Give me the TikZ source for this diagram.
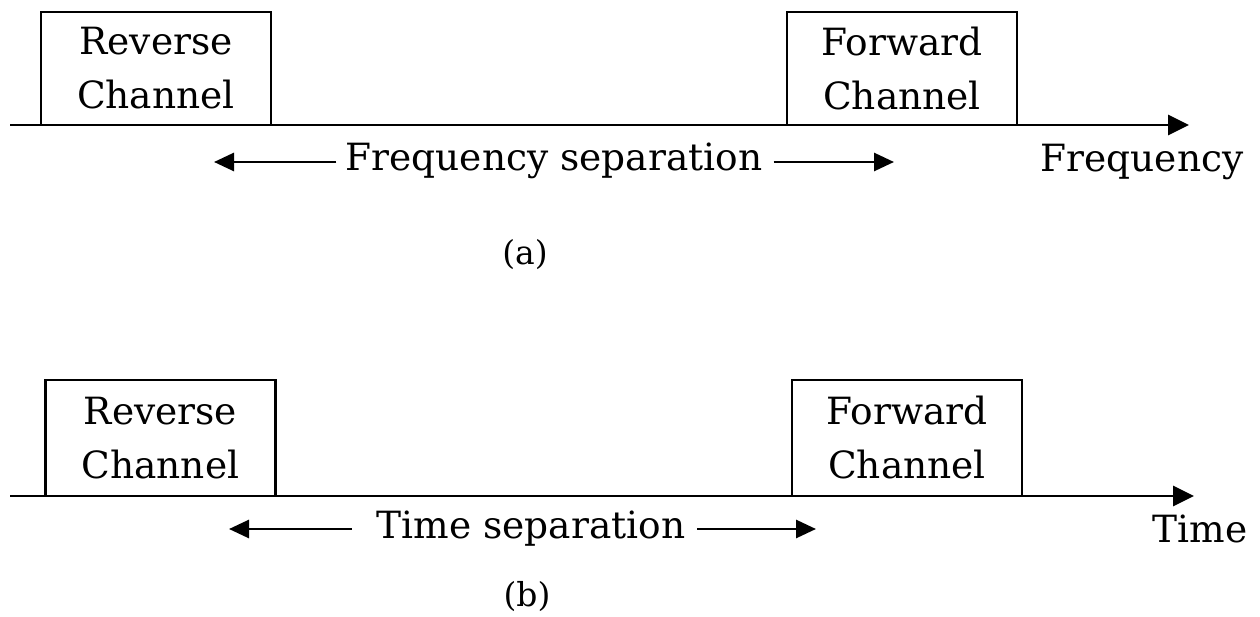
\documentclass[tikz,border=0pt]{standalone}
\usepackage{fontspec}
\setmainfont{DejaVu Serif}
\usetikzlibrary{arrows.meta}

\begin{document}
\begin{tikzpicture}[x=1pt,y=-1pt,
  txt/.style={font=\fontsize{37.5}{54}\selectfont, inner sep=0pt},
  chanbox/.style={draw, line width=2.4pt, minimum width=230pt, inner sep=0pt,
    align=center, font=\fontsize{37.5}{54}\selectfont},
  axis/.style={line width=2.8pt, -{Triangle[length=21pt,width=20pt]}},
  sep/.style={line width=2.8pt, -{Triangle[length=20pt,width=18pt]}},
  caption/.style={font=\fontsize{33}{38}\selectfont, inner sep=0pt}]
\useasboundingbox (0,0) rectangle (1260,617);

% ---- (a) frequency division ----
\node[chanbox, minimum height=113pt] (revA) at (156,68.5) {Reverse\\Channel};
\node[chanbox, minimum height=113pt] (fwdA) at (902,68.5) {Forward\\Channel};
\coordinate (axAs) at (10,125);
\coordinate (axAe) at (1189,125);
\draw[axis] (axAs) -- (axAe);
\node[txt, anchor=base] (fsep) at (554,171) {Frequency separation};
\coordinate (fl) at (214,162);
\coordinate (fr) at (894,162);
\path (fsep.west |- fl) ++(-9,0) coordinate (fls);
\path (fsep.east |- fr) ++(11,0) coordinate (frs);
\draw[sep] (fls) -- (fl);
\draw[sep] (frs) -- (fr);
\node[txt, anchor=base] (flab) at (1142,172) {Frequency};
\node[caption, anchor=base] (capA) at (525,265) {(a)};

% ---- (b) time division ----
\node[chanbox, minimum height=116pt] (revB) at (160.5,438) {Reverse\\Channel};
\node[chanbox, minimum height=116pt] (fwdB) at (907,438) {Forward\\Channel};
\coordinate (axBs) at (10,496);
\coordinate (axBe) at (1194,496);
\draw[axis] (axBs) -- (axBe);
\node[txt, anchor=base] (tsep) at (531,538) {Time separation};
\coordinate (tl) at (229,529);
\coordinate (tr) at (816,529);
\path (tsep.west |- tl) ++(-25,0) coordinate (tls);
\path (tsep.east |- tr) ++(12,0) coordinate (trs);
\draw[sep] (tls) -- (tl);
\draw[sep] (trs) -- (tr);
\node[txt, anchor=base] (tlab) at (1200,542) {Time};
\node[caption, anchor=base] (capB) at (527,606) {(b)};
\end{tikzpicture}
\end{document}
